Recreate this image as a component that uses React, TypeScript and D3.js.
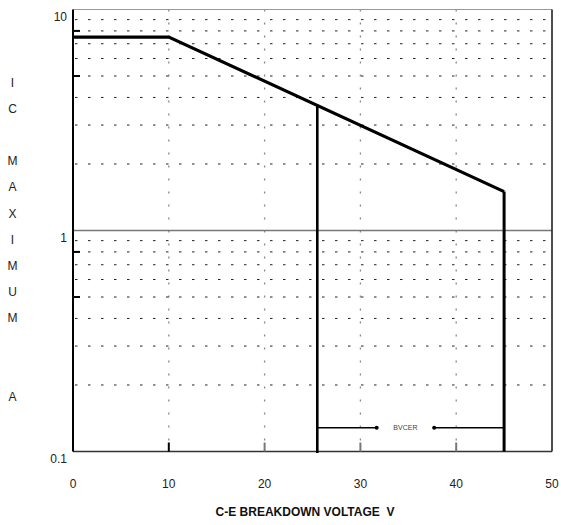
import React from "react";
import * as d3 from "d3";

const W = 561;
const H = 525;

// x axis (C-E breakdown voltage, V)
const xTicks = [0, 10, 20, 30, 40, 50];
const xGrid = [10, 20, 30, 40];
const xTickMarks = [10, 20, 30, 40];
// y axis (IC maximum, A) log scale
const yLabels = [10, 1, 0.1];
const yGridUpper = [9, 8, 7, 6, 5, 4, 3, 2];
const yGridLower = [0.9, 0.8, 0.7, 0.6, 0.5, 0.4, 0.3, 0.2];
const yTickMarks = [8, 5, 0.8, 0.5];
// SOA boundary
const curveX = [0, 10, 45];
const curveY = [7.5, 7.5, 1.5];
// BVCER limits
const bvcerLow = 25.5;
const bvcerHigh = 45;
const annotY = 0.128;
const arrowTipLeft = 31.7;
const arrowTipRight = 37.7;
const annotTextX = 34.7;
const yTitleLetters = ["I", "C", "", "M", "A", "X", "I", "M", "U", "M", "", "", "A"];

const x = d3.scaleLinear().domain([0, 50]).range([73, 552]);
const y = d3.scaleLog().domain([0.1, 10]).range([451.5, 9.5]);

function curveValueAt(v: number) {
  // log interpolation on the sloped segment
  const t = (v - curveX[1]) / (curveX[2] - curveX[1]);
  const l = Math.log10(curveY[1]) + t * (Math.log10(curveY[2]) - Math.log10(curveY[1]));
  return Math.pow(10, l);
}

export default function App() {
  const pts: [number, number][] = curveX.map((v, i) => [x(v), y(curveY[i])]);
  const line = d3.line()(pts) || "";
  const font = "Liberation Sans, Arial, sans-serif";
  const x0 = x(0), x1 = x(50), yTop = y(10), yBot = y(0.1);
  return (
    <svg width={W} height={H} style={{ position: "absolute", left: 0, top: 0, background: "#fff" }} fontFamily={font}>
      {/* vertical grid */}
      {xGrid.map((v) => (
        <line key={"vg" + v} x1={x(v)} x2={x(v)} y1={yTop} y2={yBot} stroke="#888" strokeWidth={1.3} strokeDasharray="2,11" />
      ))}
      {/* horizontal grid */}
      {[...yGridUpper, ...yGridLower].map((v) => (
        <line key={"hg" + v} x1={x0 + 2} x2={x1} y1={y(v)} y2={y(v)} stroke="#222" strokeWidth={1} strokeDasharray="2.5,10.5" />
      ))}
      {/* 1 A line */}
      <line x1={x0} x2={x1} y1={y(1)} y2={y(1)} stroke="#777" strokeWidth={1.3} />
      {/* top border */}
      <line x1={x0} x2={x1} y1={yTop} y2={yTop} stroke="#999" strokeWidth={1} />
      {/* right border */}
      <line x1={x1} x2={x1} y1={yTop} y2={yBot} stroke="#222" strokeWidth={1.6} />
      {/* bottom axis */}
      <line x1={x0} x2={x1} y1={yBot} y2={yBot} stroke="#333" strokeWidth={1.4} />
      {/* left axis */}
      <line x1={x0} x2={x0} y1={yTop} y2={yBot} stroke="#000" strokeWidth={2} />
      {/* y tick marks */}
      {yTickMarks.map((v) => (
        <line key={"yt" + v} x1={x0} x2={x0 + 7} y1={y(v)} y2={y(v)} stroke="#000" strokeWidth={2} />
      ))}
      {/* x tick marks */}
      {xTickMarks.map((v, i) => (
        <line key={"xt" + v} x1={x(v)} x2={x(v)} y1={yBot - 9} y2={yBot} stroke={i === 0 ? "#000" : "#777"} strokeWidth={2} />
      ))}
      {/* SOA curve */}
      <path d={line} fill="none" stroke="#000" strokeWidth={3.2} strokeLinejoin="miter" />
      {/* BVCER verticals */}
      <line x1={x(bvcerLow)} x2={x(bvcerLow)} y1={y(curveValueAt(bvcerLow))} y2={yBot + 1.5} stroke="#000" strokeWidth={2.6} />
      <line x1={x(bvcerHigh)} x2={x(bvcerHigh)} y1={y(curveY[2])} y2={yBot} stroke="#000" strokeWidth={3} />
      {/* annotation */}
      <line x1={x(bvcerLow)} x2={x(arrowTipLeft)} y1={y(annotY)} y2={y(annotY)} stroke="#000" strokeWidth={1.5} />
      <line x1={x(bvcerHigh)} x2={x(arrowTipRight)} y1={y(annotY)} y2={y(annotY)} stroke="#000" strokeWidth={1.5} />
      <circle cx={x(arrowTipLeft)} cy={y(annotY)} r={2} fill="#000" />
      <circle cx={x(arrowTipRight)} cy={y(annotY)} r={2} fill="#000" />
      <text x={x(annotTextX)} y={y(annotY) + 2.5} fontSize={7} fill="#444" textAnchor="middle">BVCER</text>
      {/* y labels */}
      {yLabels.map((v) => (
        <text key={"yl" + v} x={67} y={y(v) + 11} fontSize={12} fill="#222" textAnchor="end">{String(v)}</text>
      ))}
      {/* x labels */}
      {xTicks.map((v) => (
        <text key={"xl" + v} x={x(v)} y={488} fontSize={12} fill="#222" textAnchor="middle">{String(v)}</text>
      ))}
      {/* x title */}
      <text x={305} y={516} fontSize={12} fontWeight="bold" fill="#111" textAnchor="middle" style={{ whiteSpace: "pre" }}>{"C-E BREAKDOWN VOLTAGE  V"}</text>
      {/* y title stacked letters */}
      {yTitleLetters.map((c, i) => (
        c ? <text key={"yl" + i} x={12.5} y={82 + i * 26.2 + 4.5} fontSize={12} fill="#222" textAnchor="middle">{c}</text> : null
      ))}
    </svg>
  );
}
